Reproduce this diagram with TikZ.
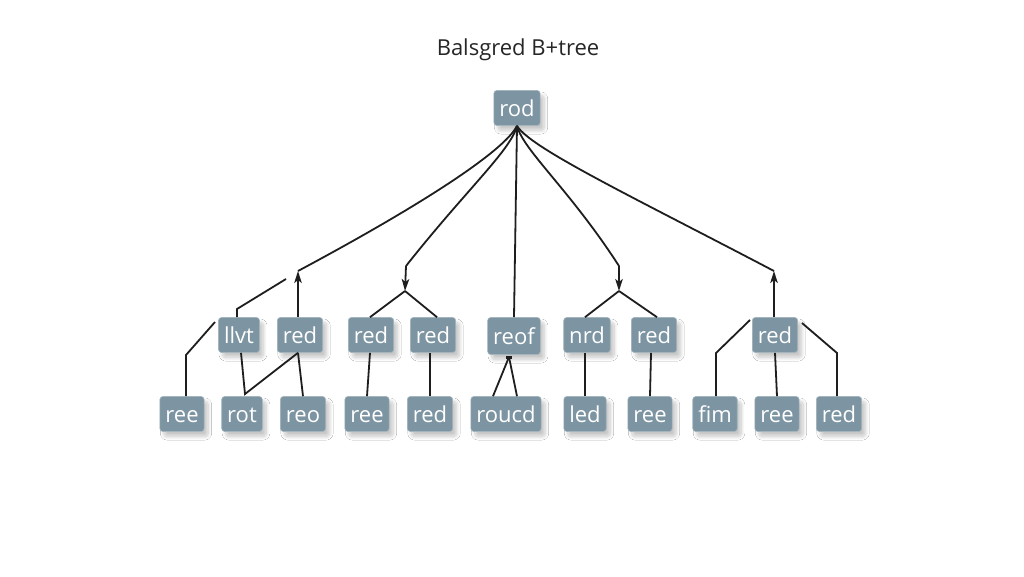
\documentclass[tikz,border=0pt]{standalone}
\usepackage{fontspec}
\setmainfont{Open Sans}
\usetikzlibrary{arrows.meta,shadows.blur,calc}
\definecolor{boxc}{RGB}{125,149,162}
\definecolor{linec}{RGB}{30,30,30}
\tikzset{
  box/.style={fill=boxc, draw=boxc!70!white, line width=0.6pt, rounded corners=3pt,
    text=white, font=\fontsize{22}{22}\selectfont, minimum height=35pt, inner xsep=5.5pt,
    inner ysep=0pt, text height=20pt, text depth=4pt,
    blur shadow={shadow xshift=4pt, shadow yshift=-5pt, shadow blur radius=3.5pt, shadow blur steps=10, shadow opacity=22}},
  conn/.style={draw=linec, line width=1.8pt},
  arr/.style={conn, -{Stealth[length=12pt,width=7.5pt,inset=3pt]}},
}
\begin{document}
\begin{tikzpicture}[x=1pt,y=-1pt]
\useasboundingbox[fill=white] (0,0) rectangle (1024,576);
\node[font=\fontsize{22}{22}\selectfont, text=black!85] (title) at (518,50) {Balsgred B+tree};
\node[box] (root) at (517,108) {rod};
% row 1
\node[box] (n1) at (239,335) {llvt};
\node[box] (n2) at (300,335) {red};
\node[box] (n3) at (371,335) {red};
\node[box] (n4) at (433,335) {red};
\node[box, minimum height=37pt] (n5) at (514,336) {reof};
\node[box] (n6) at (587,335) {nrd};
\node[box] (n7) at (654,335) {red};
\node[box] (n8) at (775,335) {red};
% row 2
\node[box] (l1) at (182,414) {ree};
\node[box] (l2) at (242,414) {rot};
\node[box] (l3) at (303,414) {reo};
\node[box] (l4) at (367,414) {ree};
\node[box] (l5) at (430,414) {red};
\node[box] (l6) at (506,414) {roucd};
\node[box] (l7) at (585,414) {led};
\node[box] (l8) at (650,414) {ree};
\node[box] (l9) at (715,414) {fim};
\node[box] (l10) at (777,414) {ree};
\node[box] (l11) at (839,414) {red};
% junction coordinates
\coordinate (j1) at (298,271);
\coordinate (k2) at (406,266);
\coordinate (j2) at (405,291);
\coordinate (k4) at (619,266);
\coordinate (j4) at (619,291);
\coordinate (j5) at (774,271);
\coordinate (a1) at (215,322);
\coordinate (a2) at (186,355);
\coordinate (b1) at (286,279);
\coordinate (b2) at (237,309);
\coordinate (c1) at (245,394);
\coordinate (d1) at (509,357);
\coordinate (e1) at (750,320);
\coordinate (e2) at (716,353);
\coordinate (f1) at (802,323);
\coordinate (f2) at (837,353);
% root curves
\draw[conn] (root.south) .. controls (505,150) and (427,202) .. (j1);
\draw[conn] (root.south) .. controls (511,150) and (466,190) .. (k2);
\draw[conn] (root.south) -- (n5.north);
\draw[conn] (root.south) .. controls (523,150) and (570,190) .. (k4);
\draw[conn] (root.south) .. controls (530,148) and (633,197) .. (j5);
% arrows
\draw[arr] (n2.north -| j1) -- (j1);
\draw[arr] (k2) -- (j2);
\draw[arr] (k4) -- (j4);
\draw[arr] (n8.north -| j5) -- (j5);
% branches
\draw[conn] (j2) -- ([xshift=-1pt]n3.north);
\draw[conn] (j2) -- ([xshift=4pt]n4.north);
\draw[conn] (j4) -- ([xshift=-2pt]n6.north);
\draw[conn] (j4) -- ([xshift=3pt]n7.north);
% left cluster
\draw[conn] (a1) -- (a2) -- (a2 |- l1.north);
\draw[conn] (b1) -- (b2) -- (b2 |- n1.north);
\draw[conn] ([xshift=2pt]n1.south) -- (c1) -- ([xshift=-2pt]n2.south);
\draw[conn] ([xshift=-2pt]n2.south) -- (l3.north);
\draw[conn] ([xshift=-1pt]n3.south) -- (l4.north);
\draw[conn] (n4.south -| l5.north) -- (l5.north);
% middle
\draw[conn] (d1) -- ([xshift=-13pt]l6.north);
\draw[conn] (d1) -- ([xshift=11pt]l6.north);
\draw[line width=3pt, linec] ([xshift=-3pt]d1) -- ([xshift=3pt]d1);
\draw[conn] (n6.south -| l7.north) -- (l7.north);
\draw[conn] ([xshift=-3pt]n7.south) -- (l8.north);
% right cluster
\draw[conn] (e1) -- (e2) -- (e2 |- l9.north);
\draw[conn] (n8.south) -- (l10.north);
\draw[conn] (f1) -- (f2) -- (f2 |- l11.north);
\end{tikzpicture}
\end{document}
